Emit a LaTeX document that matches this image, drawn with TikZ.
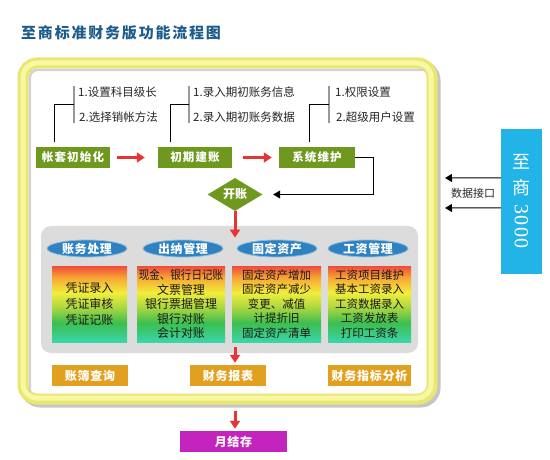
\documentclass[tikz,border=0pt]{standalone}
\usepackage{fontspec}
\setmainfont{Noto Sans CJK SC}
\newfontfamily\numfont[LetterSpace=6]{Liberation Serif}
\usetikzlibrary{shapes.geometric,arrows.meta}
\definecolor{titleblue}{HTML}{1E5C8C}
\definecolor{boxgreen}{HTML}{6E981E}
\definecolor{arrred}{HTML}{E83434}
\definecolor{framey}{HTML}{E8E870}
\definecolor{framel}{HTML}{F8F8A4}
\definecolor{panelgray}{HTML}{DCDCDC}
\definecolor{ellblue}{HTML}{2F82C2}
\definecolor{boxorange}{HTML}{E2A020}
\definecolor{zsblue}{HTML}{22B4E6}
\definecolor{magbox}{HTML}{C424BE}
\definecolor{ca}{HTML}{F04A3C}
\definecolor{cb}{HTML}{F7A434}
\definecolor{cc}{HTML}{F2EE3C}
\definecolor{cd}{HTML}{A8D640}
\definecolor{ce}{HTML}{3CBE50}
\definecolor{cf}{HTML}{3AD6A8}
\pgfdeclareverticalshading{rainbowv}{100bp}{color(0bp)=(cf); color(25bp)=(cf); color(37.5bp)=(ce); color(47.5bp)=(cd); color(57.5bp)=(cc); color(67.5bp)=(cb); color(75bp)=(ca); color(100bp)=(ca)}
\newcommand\myfs[1]{\fontsize{#1}{#1}\selectfont}
\tikzset{
  gbox/.style={rectangle, fill=boxgreen, text=white, minimum width=74pt, minimum height=21pt, inner sep=0,
    font=\bfseries\myfs{11.5}\addfontfeatures{LetterSpace=10}},
  subtxt/.style={anchor=west, inner sep=0, font=\myfs{11.5}, text=black!85},
  redarr/.style={draw=arrred, line width=3pt, -{Triangle[length=8pt,width=10pt]}},
  blkarr/.style={draw=black, line width=1pt, -{Triangle[length=7pt,width=8pt]}},
  blk/.style={draw=black, line width=0.9pt},
  gline/.style={draw=gray!80, line width=2pt},
  dia/.style={diamond, aspect=1.67, fill=boxgreen, minimum width=55pt, minimum height=33pt, inner sep=0,
    text=white, font=\bfseries\myfs{12}},
  panelbox/.style={rectangle, fill=panelgray, rounded corners=10pt, minimum width=377pt, minimum height=127pt, inner sep=0},
  ell/.style={ellipse, fill=ellblue, draw=ellblue!55!white, line width=0.8pt, minimum width=80pt, minimum height=17pt,
    inner sep=0, text height=9pt, text depth=0pt, text=white, font=\bfseries\myfs{12}\addfontfeatures{LetterSpace=5}},
  gradbox/.style={rectangle, shading=rainbowv, minimum height=76pt, inner sep=0, align=center, text=black!90},
  obox/.style={rectangle, fill=boxorange, minimum height=21pt, inner sep=0, text=white,
    font=\bfseries\myfs{12}\addfontfeatures{LetterSpace=6}},
}
\begin{document}
\begin{tikzpicture}[x=1pt,y=-1pt]
\useasboundingbox (0,0) rectangle (550,460);
% title
\node[anchor=west, inner sep=0, text=titleblue, font=\bfseries\myfs{15}\addfontfeatures{LetterSpace=12}] (title) at (21,33) {至商标准财务版功能流程图};
% frame
\node[draw=gray!45, line width=11pt, rounded corners=14pt, minimum width=409pt, minimum height=336pt, inner sep=0] (frameshadow) at (230.5,234) {};
\node[draw=framey, line width=11pt, rounded corners=14pt, minimum width=409pt, minimum height=336pt, inner sep=0, fill=white] (frame) at (227.5,231) {};
\node[draw=framel, line width=5pt, rounded corners=14pt, minimum width=408pt, minimum height=335pt, inner sep=0] (framehl) at (227,230.5) {};
\draw[gray!35, line width=2.5pt, rounded corners=8pt] (29.8,392) -- (29.8,69.8) -- (425,69.8);
% top green boxes
\node[gbox] (zt) at (73,157.5) {帐套初始化};
\node[gbox] (cq) at (195,157.5) {初期建账};
\node[gbox, minimum width=76pt] (xt) at (317,157.5) {系统维护};
\draw[redarr, shorten <=7pt, shorten >=13pt] (zt) -- (cq);
\draw[redarr, shorten <=11pt, shorten >=7pt] (cq) -- (xt);
% brackets
\coordinate (b1) at (74,104);
\coordinate (b2) at (189,104);
\coordinate (b3) at (329,104);
\draw[gline] (74,86) -- (74,123);
\draw[gline] (189,86) -- (189,123);
\draw[gline] (329,86) -- (329,123);
\draw[blk] ([xshift=19pt,yshift=5pt]zt.north west) |- (b1);
\draw[blk] ([xshift=13pt,yshift=5pt]cq.north west) |- (b2);
\draw[blk] ([xshift=31pt,yshift=5pt]xt.north west) |- (b3);
\node[subtxt] (s11) at (78,92) {1.设置科目级长};
\node[subtxt] (s12) at (79,117) {2.选择销帐方法};
\node[subtxt] (s21) at (193,92) {1.录入期初账务信息};
\node[subtxt] (s22) at (193,117) {2.录入期初账务数据};
\node[subtxt] (s31) at (335,92) {1.权限设置};
\node[subtxt] (s32) at (336,117) {2.超级用户设置};
% diamond
\node[dia] (kz) at (235,194.5) {开账};
\draw[blkarr, shorten >=10.5pt] (xt.east) -- ++(18,0) |- (kz.east);
% blue box
\node[rectangle, fill=zsblue, minimum width=41pt, minimum height=145pt, inner sep=0, text=white,
  font=\myfs{18}] (zs) at (521.5,201.5)
  {\raisebox{7.5pt}{\begin{tabular}{@{}c@{}}至\\[5pt]商\\[5pt]\rotatebox[origin=c]{-90}{\numfont\myfs{20}3000}\end{tabular}}};
\coordinate (in1) at (445,178);
\coordinate (in2) at (445,208);
\draw[blkarr] ([yshift=-49pt]zs.north west) -- (in1);
\draw[blkarr] ([yshift=-79pt]zs.north west) -- (in2);
\node[inner sep=0, font=\myfs{11}, text=black!85] (sjjk) at (473,193) {数据接口};
% panel
\node[panelbox] (pn) at (229.5,289.5) {};
\node[ell] (e1) at (87,248.5) {账务处理};
\node[ell] (e2) at (183,248.5) {出纳管理};
\node[ell] (e3) at (277,248.5) {固定资产};
\node[ell] (e4) at (368,248.5) {工资管理};
\draw[redarr, shorten >=2pt] (kz.south) -- (kz.south |- e3.north);
\node[gradbox, minimum width=75pt, font=\fontsize{12}{16}\selectfont] (g1) at (89.5,304) {凭证录入\\凭证审核\\凭证记账};
\node[gradbox, minimum width=88pt, font=\fontsize{12}{14.5}\selectfont] (g2) at (181,304) {\scalebox{0.88}[1]{现金、银行日记账}\\文票管理\\银行票据管理\\银行对账\\会计对账};
\node[gradbox, minimum width=89pt, font=\fontsize{11.5}{14.5}\selectfont] (g3) at (276.5,304) {固定资产增加\\固定资产减少\\变更、减值\\计提折旧\\固定资产清单};
\node[gradbox, minimum width=83pt, font=\fontsize{11.5}{14.5}\selectfont] (g4) at (369.5,304) {工资项目维护\\基本工资录入\\工资数据录入\\工资发放表\\打印工资条};
% bottom boxes
\node[obox, minimum width=76pt] (zb) at (90,375.5) {账簿查询};
\node[obox, minimum width=76pt] (cb) at (228,375.5) {财务报表};
\node[obox, minimum width=83pt] (zb2) at (369.5,375.5) {财务指标分析};
\draw[redarr, shorten >=2pt] ([yshift=6pt]pn.south -| kz) -- (kz |- cb.north);
\node[rectangle, fill=magbox, minimum width=107pt, minimum height=21pt, inner sep=0, text=white,
  font=\bfseries\myfs{12}\addfontfeatures{LetterSpace=6}] (yjc) at (233.5,441.5) {月结存};
\draw[redarr, shorten >=2pt] ([yshift=-6pt]frame.south -| kz) -- (kz |- yjc.north);
\end{tikzpicture}
\end{document}
